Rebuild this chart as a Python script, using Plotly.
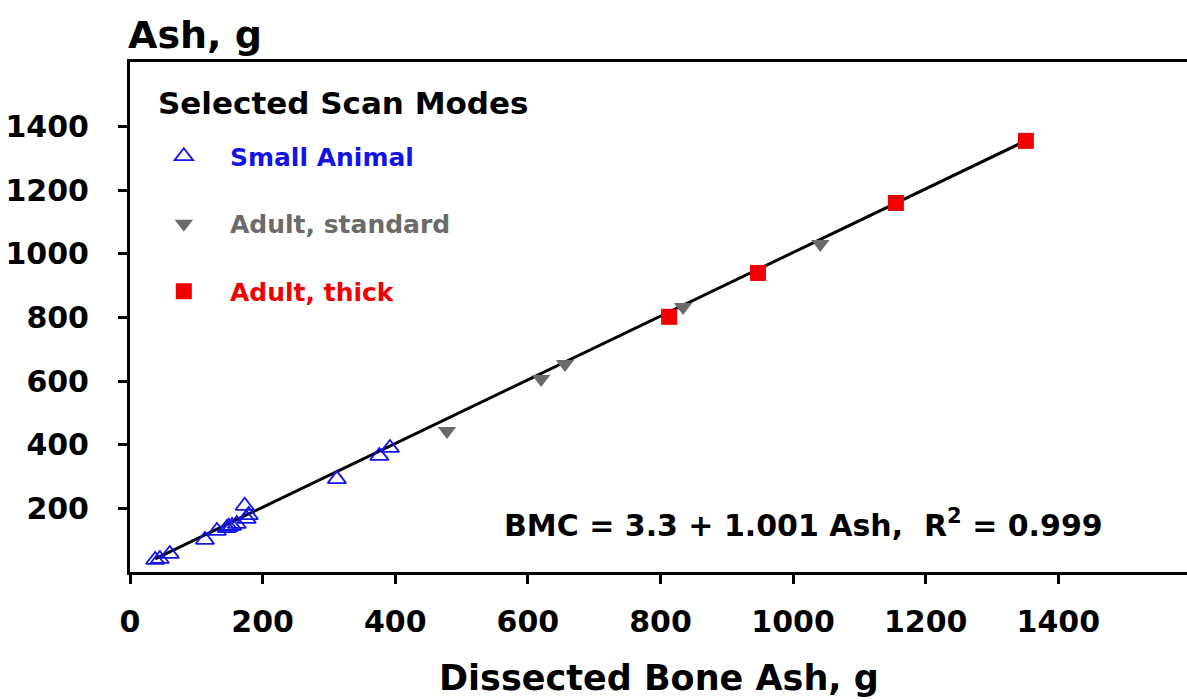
import plotly.graph_objects as go

# ---- data ----
small_x = [38, 45, 60, 113, 131, 146, 149, 154, 161, 173, 176, 179, 312, 376, 392]
small_y = [38, 41, 57, 101, 129, 138, 142, 145, 151, 208, 167, 179, 292, 365, 390]

std_x = [478, 620, 656, 834, 1041]
std_y = [443, 607, 654, 833, 1031]

thick_x = [813, 947, 1155, 1351]
thick_y = [802, 940, 1160, 1355]

intercept = 3.3
slope = 1.001

x_ticks = [0, 200, 400, 600, 800, 1000, 1200, 1400]
y_ticks = [200, 400, 600, 800, 1000, 1200, 1400]

FONT = "DejaVu Sans"

all_x = small_x + std_x + thick_x
fit_x = [min(all_x), max(all_x)]
fit_y = [intercept + slope * v for v in fit_x]

fig = go.Figure()
fig.add_trace(go.Scatter(x=fit_x, y=fit_y, mode="lines",
                         line=dict(color="black", width=3), showlegend=False))
fig.add_trace(go.Scatter(x=small_x, y=small_y, mode="markers",
                         name="<span style='color:#1414e6'>\u00a0\u00a0\u00a0Small Animal</span>",
                         legendgroup="a",
                         marker=dict(symbol="triangle-up-open", size=16,
                                     color="#1414e6", line=dict(width=1.8, color="#1414e6"))))
fig.add_trace(go.Scatter(x=std_x, y=std_y, mode="markers",
                         name="<span style='color:#6b6b6b'>\u00a0\u00a0\u00a0Adult, standard</span>",
                         legendgroup="b",
                         marker=dict(symbol="triangle-down", size=16, color="#6b6b6b")))
fig.add_trace(go.Scatter(x=thick_x, y=thick_y, mode="markers",
                         name="<span style='color:#f00000'>\u00a0\u00a0\u00a0Adult, thick</span>",
                         legendgroup="c",
                         marker=dict(symbol="square", size=16, color="#f00000")))

fig.update_layout(
    width=1187, height=700,
    margin=dict(l=130, r=0, t=62, b=128),
    paper_bgcolor="white", plot_bgcolor="white",
    font=dict(family=FONT, color="black"),
    showlegend=True,
    legend=dict(x=0.032, y=0.86, xanchor="left", yanchor="top",
                traceorder="grouped", tracegroupgap=32,
                font=dict(family=FONT, size=25, weight="bold"),
                bgcolor="rgba(0,0,0,0)"),
    xaxis=dict(range=[0, 1594], tickvals=x_ticks, ticktext=[str(v) for v in x_ticks],
               showgrid=False, zeroline=False, showline=True, linecolor="black",
               linewidth=3, mirror=True, ticks="outside", ticklen=9, tickwidth=3,
               tickcolor="black", ticklabelstandoff=12,
               tickfont=dict(family=FONT, size=30, weight="bold", color="black")),
    yaxis=dict(range=[0, 1603], tickvals=y_ticks, ticktext=[str(v) for v in y_ticks],
               showgrid=False, zeroline=False, showline=True, linecolor="black",
               linewidth=3, ticks="outside", ticklen=9, tickwidth=3,
               tickcolor="black", ticklabelstandoff=23,
               tickfont=dict(family=FONT, size=30, weight="bold", color="black")),
)

fig.add_annotation(text="<b>Ash, g</b>", xref="paper", yref="paper",
                   x=-0.004, y=1.053, xanchor="left", yanchor="middle",
                   showarrow=False, font=dict(family=FONT, size=38, color="black"))
fig.add_annotation(text="<b>Dissected Bone Ash, g</b>", xref="paper", yref="paper",
                   x=0.5, y=-0.208, xanchor="center", yanchor="middle",
                   showarrow=False, font=dict(family=FONT, size=35, color="black"))
fig.add_annotation(text="<b>Selected Scan Modes</b>", xref="paper", yref="paper",
                   x=0.025, y=0.9196, xanchor="left", yanchor="middle",
                   showarrow=False, font=dict(family=FONT, size=31, color="black"))
fig.add_annotation(text="<b>BMC = 3.3 + 1.001 Ash,\u00a0\u00a0R<sup>2</sup> = 0.999</b>",
                   xref="paper", yref="paper",
                   x=0.637, y=0.096, xanchor="center", yanchor="middle",
                   showarrow=False, font=dict(family=FONT, size=30, color="black"))

fig.write_html("out.html")
